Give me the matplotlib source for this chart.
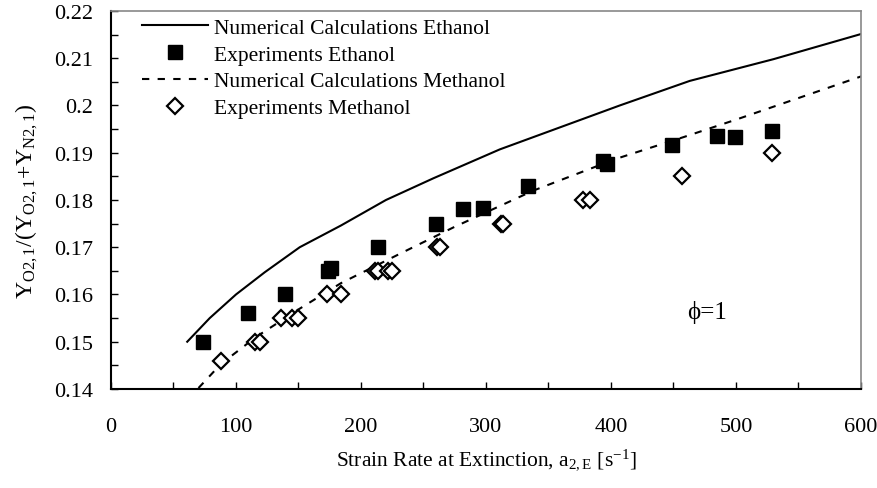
import numpy as np
import matplotlib
matplotlib.use('Agg')
import matplotlib.pyplot as plt

plt.rcParams['font.family'] = ['Liberation Serif', 'DejaVu Serif']
plt.rcParams['mathtext.fontset'] = 'custom'
plt.rcParams['mathtext.rm'] = 'Liberation Serif'
plt.rcParams['mathtext.it'] = 'Liberation Serif:italic'

# numerical calculations, ethanol
num_eth_x = [61, 79, 100, 123, 151, 184, 220, 258, 311, 407, 463, 530, 605]
num_eth_y = [0.150, 0.155, 0.160, 0.1647, 0.170, 0.1746, 0.180, 0.1846,
             0.1907, 0.2000, 0.2052, 0.2098, 0.2155]

# numerical calculations, methanol
num_met_x = [70, 88, 116, 151, 184, 231, 274, 338, 404, 458, 500, 605]
num_met_y = [0.1402, 0.1453, 0.151, 0.157, 0.1624, 0.1686, 0.1742, 0.182,
             0.1887, 0.1933, 0.1970, 0.2066]

# experiments, ethanol
exp_eth_x = [74, 110, 139, 174, 176, 214, 260, 282, 298, 334, 394, 397,
             449, 485, 499, 529]
exp_eth_y = [0.150, 0.156, 0.160, 0.165, 0.1657, 0.170, 0.175, 0.178,
             0.1784, 0.183, 0.1882, 0.1876, 0.1917, 0.1936, 0.1934, 0.1945]

# experiments, methanol
exp_met_x = [88, 115, 119, 136, 145, 150, 173, 184, 211, 214, 222, 225,
             261, 263, 312, 314, 378, 383, 457, 529]
exp_met_y = [0.146, 0.150, 0.150, 0.155, 0.155, 0.155, 0.160, 0.160,
             0.165, 0.165, 0.165, 0.165, 0.170, 0.170, 0.175, 0.175,
             0.180, 0.180, 0.185, 0.190]

fig = plt.figure(figsize=(8.78, 4.89), dpi=100)
ax = fig.add_axes([0.1264, 0.2025, 0.8542, 0.773])

ax.plot(num_eth_x, num_eth_y, '-', color='black', lw=1.5,
        label='Numerical Calculations Ethanol')
ax.plot(exp_eth_x, exp_eth_y, 's', color='black', ms=10.5,
        label='Experiments Ethanol')
ax.plot(num_met_x, num_met_y, color='black', lw=1.5, ls=(0, (3.5, 4)),
        label='Numerical Calculations Methanol')
ax.plot(exp_met_x, exp_met_y, 'D', mfc='white', mec='black', mew=1.6,
        ms=8.5, ls='none', label='Experiments Methanol')

ax.text(461, 0.1565, '\u03d5=1', fontsize=18, ha='left', va='center')

ax.set_xlim(0, 600)
ax.set_ylim(0.14, 0.22)
ax.set_xticks(np.arange(0, 601, 100))
ax.set_xticks(np.arange(0, 601, 50), minor=True)
ax.set_yticks(np.arange(0.14, 0.2201, 0.01))
ax.set_yticks(np.arange(0.14, 0.2201, 0.005), minor=True)
ax.set_yticklabels(['0.14', '0.15', '0.16', '0.17', '0.18', '0.19', '0.2',
                    '0.21', '0.22'])
ax.tick_params(which='both', direction='in', length=5, width=1,
               labelsize=16, top=False, right=False)
ax.tick_params(axis='x', which='both', pad=20)
ax.tick_params(axis='y', which='both', pad=13)

for s in ['left', 'bottom']:
    ax.spines[s].set_linewidth(1.5)
    ax.spines[s].set_color('black')
for s in ['top', 'right']:
    ax.spines[s].set_linewidth(1.2)
    ax.spines[s].set_color('#888888')

ax.set_xlabel('Strain Rate at Extinction, a$_{2,\\mathrm{E}}$ [s$^{-1}$]',
              fontsize=15.5, labelpad=8)
ax.set_ylabel('Y$_{\\mathrm{O2,1}}$/(Y$_{\\mathrm{O2,1}}$+Y$_{\\mathrm{N2,1}}$)',
              fontsize=17, labelpad=10)

ax.legend(loc='upper left', bbox_to_anchor=(0.041, 0.982), frameon=False,
          fontsize=15.5, borderpad=0, borderaxespad=0, handlelength=3.1,
          handletextpad=0.25, labelspacing=0.31)

fig.savefig('out.png', dpi=100)
